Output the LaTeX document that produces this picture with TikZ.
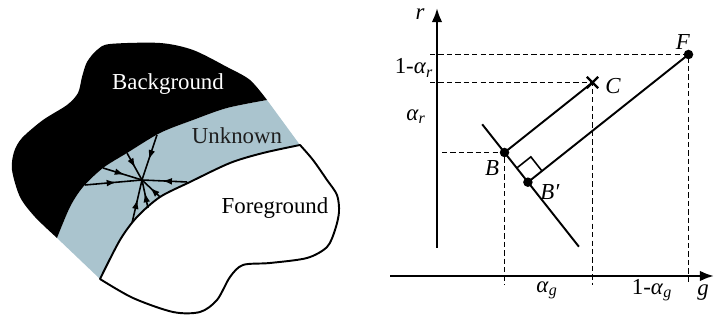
\documentclass[tikz,border=0pt]{standalone}
\usepackage{amsmath}
\usepackage{fontspec}
\setmainfont{Liberation Serif}
\usetikzlibrary{arrows.meta, calc, decorations.markings, shapes.misc}
\definecolor{Matte_Blue}{HTML}{AAC4CE}
\definecolor{Matte_Ink}{HTML}{1E1E1E}
\tikzset{
    midarrow/.style={line width=0.9pt, postaction={decorate},
        decoration={markings, mark=at position 0.55 with {\arrow{Latex[length=5.5pt,width=3.8pt]}}}},
    axisline/.style={line width=1.4pt, -{Latex[length=8pt,width=6pt]}},
    guide/.style={line width=0.75pt, dash pattern=on 3pt off 1.8pt},
    seg/.style={line width=1.1pt},
    dot/.style={circle, fill, inner sep=0pt, minimum size=1.9mm},
    cross/.style={cross out, draw, line width=1.3pt, inner sep=0pt, minimum size=1.8mm}
}

\begin{document}
\begin{tikzpicture}[x=0.2mm, y=0.2mm, font=\fontsize{13}{15}\selectfont]
    \useasboundingbox (0,0) rectangle (714,320);
    % Unknown band
    \fill[Matte_Blue] plot[smooth] coordinates {(100,41) (120,80) (137,103) (160,123) (190,138) (230,157) (263,167) (300,175)}
        -- (267,220)
        -- plot[smooth] coordinates {(267,220) (227,212) (193,200) (160,187) (127,167) (103,152) (83,133) (70,113) (57,82)} -- cycle;
    % Background
    \fill[black] plot[smooth] coordinates {(267,220) (227,212) (193,200) (160,187) (127,167) (103,152) (83,133) (70,113) (57,82)}
        -- plot[smooth] coordinates {(57,82) (35,103) (20,123) (12,150) (14,168) (22,182) (43,200) (67,215) (78,227) (82,243) (87,258) (97,270) (110,276) (160,277) (193,270) (227,253) (250,240) (267,220)} -- cycle;
    % Foreground
    \filldraw[fill=white, line width=1.1pt, line join=round] plot[smooth] coordinates {(100,41) (120,80) (137,103) (160,123) (190,138) (230,157) (263,167) (300,175)}
        -- plot[smooth] coordinates {(300,175) (313,160) (327,140) (337,125) (339,108) (335,90) (327,73) (307,62) (270,57) (243,55) (230,43) (217,20) (200,8) (173,8) (133,22) (100,41)} -- cycle;
    % Arrows into the pixel
    \coordinate (ctr) at (142,140);
    \foreach \p/\q [count=\i] in {157/185, 127/167, 103/152, 85/135, 187/138, 160/123, 148/112, 132/97}
        \coordinate (s\i) at (\p,\q);
    \foreach \i in {1,...,8}
        \draw[midarrow] (s\i) -- (ctr);
    % Region labels
    \node[text=white] (bglab) at (168,236) {Background};
    \node[text=Matte_Ink] (uklab) at (237,184) {Unknown};
    \node (fglab) at (275,112) {Foreground};

    % Axes
    \coordinate (rbot) at (437,72);
    \coordinate (rtop) at (437,312);
    \coordinate (gleft) at (390,44);
    \coordinate (gright) at (714,44);
    \draw[axisline] (rbot) -- (rtop);
    \draw[axisline] (gleft) -- (gright);
    \node (rlab) at (420,306) {\textit{r}};
    \node (glab) at (703,27) {\textit{g}};
    % Points
    \node[dot] (B) at (504.5,167.5) {};
    \node[dot] (Bp) at (527.9,137.8) {};
    \node[dot] (F) at (688.5,265.5) {};
    \node[cross] (C) at (592.5,237.5) {};
    \node (Blab) at (492,152) {\textit{B}};
    \node (Bplab) at (550,128) {\textit{B′}};
    \node (Flab) at (683,278) {\textit{F}};
    \node (Clab) at (613,234) {\textit{C}};
    % Guides
    \coordinate (Fy) at (430,265.5);
    \coordinate (Fx) at (688.5,35);
    \coordinate (Cy) at (430,237.5);
    \coordinate (Cx) at (592.5,35);
    \coordinate (By) at (442,167.5);
    \coordinate (Bx) at (504.5,35);
    \draw[guide] (Fy) -- (F.center) -- (Fx);
    \draw[guide] (Cy) -- (C.center) -- (Cx);
    \draw[guide] (By) -- (B.center) -- (Bx);
    % Line through B and the two normals
    \coordinate (l1) at (482.2,195.7);
    \coordinate (l2) at (578.9,73.3);
    \draw[seg] (l1) -- (l2);
    \draw[seg] (B.center) -- (C.center);
    \draw[seg] (Bp.center) -- (F.center);
    \coordinate (ra1) at ($(Bp.center)!3.6mm!(B.center)$);
    \coordinate (ra2) at ($(Bp.center)!3.6mm!(F.center)$);
    \draw[line width=0.9pt] (ra1) -- ($(ra1)+(ra2)-(Bp.center)$) -- (ra2);
    % Interval labels
    \node (ar1) at (414,252) {1-\textit{α}$_{\textit{r}}$};
    \node (ar) at (416,203) {\textit{α}$_{\textit{r}}$};
    \node (ag) at (547,30) {\textit{α}$_{\textit{g}}$};
    \node (ag1) at (652,30) {1-\textit{α}$_{\textit{g}}$};
\end{tikzpicture}
\end{document}
